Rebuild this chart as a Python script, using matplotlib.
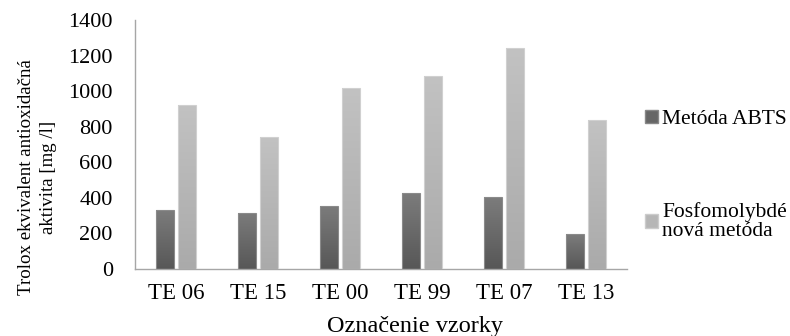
import numpy as np
import matplotlib
matplotlib.use("Agg")
import matplotlib.pyplot as plt
from matplotlib.patches import Patch
from matplotlib.colors import LinearSegmentedColormap

categories = ["TE 06", "TE 15", "TE 00", "TE 99", "TE 07", "TE 13"]
abts = [332, 317, 355, 426, 404, 197]
fosfo = [924, 745, 1018, 1085, 1247, 839]
series_labels = ["Metóda ABTS", "Fosfomolybdé\nnová metóda"]
yticks = [0, 200, 400, 600, 800, 1000, 1200, 1400]

plt.rcParams["font.family"] = ["Liberation Serif", "DejaVu Serif"]

fig = plt.figure(figsize=(7.9, 3.36), dpi=100)
ax = fig.add_axes([135 / 790, (336 - 269) / 336, (627 - 135) / 790, (269 - 20.5) / 336])

x = np.arange(len(categories))
w = 0.21
gap = 0.06

dark_cmap = LinearSegmentedColormap.from_list("dark", ["#575757", "#7c7c7c"])
light_cmap = LinearSegmentedColormap.from_list("light", ["#aaaaaa", "#c2c2c2"])


def gradient_bars(xs, heights, cmap, edge):
    bars = ax.bar(xs, heights, width=w, color="none", edgecolor=edge, linewidth=0.8, zorder=3)
    grad = np.linspace(0, 1, 256).reshape(-1, 1)
    for b in bars:
        x0, y0 = b.get_x(), b.get_y()
        bw, bh = b.get_width(), b.get_height()
        im = ax.imshow(grad, cmap=cmap, origin="lower", aspect="auto",
                       extent=[x0, x0 + bw, y0, y0 + bh], zorder=2)
        im.set_clip_path(b)
    return bars


gradient_bars(x - (w + gap) / 2, abts, dark_cmap, "#8a8a8a")
gradient_bars(x + (w + gap) / 2, fosfo, light_cmap, "#d0d0d0")

ax.set_xlim(-0.5, len(categories) - 0.5)
ax.set_ylim(0, 1400)
ax.set_yticks(yticks)
ax.set_xticks(x)
ax.set_xticklabels(categories)
ax.tick_params(axis="both", length=0, colors="black")
ax.tick_params(axis="x", labelsize=16.5, pad=10)
ax.tick_params(axis="y", labelsize=16, pad=16)
for s in ["top", "right"]:
    ax.spines[s].set_visible(False)
for s in ["left", "bottom"]:
    ax.spines[s].set_color("#a6a6a6")
    ax.spines[s].set_linewidth(1.0)

ax.set_ylabel("Trolox ekvivalent antioxidačná\naktivita [mg /l]", fontsize=13.6,
              linespacing=1.4)
ax.yaxis.set_label_coords(-0.159, 0.37)
ax.set_xlabel("Označenie vzorky", fontsize=17.5)
ax.xaxis.set_label_coords(0.569, -0.189)

handles = [Patch(facecolor="#666666", edgecolor="#888888"),
           Patch(facecolor="#b6b6b6", edgecolor="#cccccc")]
leg = fig.legend(handles, series_labels, loc="upper left",
                 bbox_to_anchor=(634 / 790, 1 - 99 / 336),
                 frameon=False, fontsize=15.5, labelspacing=3.4, handlelength=0.6,
                 handleheight=0.6, handletextpad=0.2, borderpad=0)
for t in leg.get_texts():
    t.set_linespacing(0.95)

fig.savefig("out.png", dpi=100, facecolor="white")
